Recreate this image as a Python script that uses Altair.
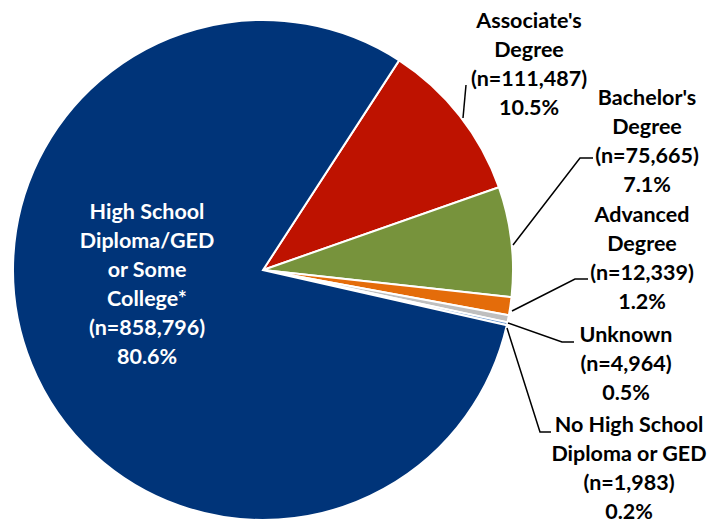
import math
import altair as alt
import pandas as pd

# ---- data ----
categories = ["Associate's Degree", "Bachelor's Degree", "Advanced Degree",
              "Unknown", "No High School Diploma or GED",
              "High School Diploma/GED or Some College*"]
counts = [111487, 75665, 12339, 4964, 1983, 858796]
percents = ["10.5%", "7.1%", "1.2%", "0.5%", "0.2%", "80.6%"]
label_lines = [
    ["Associate's", "Degree"],
    ["Bachelor's", "Degree"],
    ["Advanced", "Degree"],
    ["Unknown"],
    ["No High School", "Diploma or GED"],
    ["High School", "Diploma/GED", "or Some", "College*"],
]
colors = ["#BE1200", "#77933C", "#E46C0A", "#BFBFBF", "#6F9BD1", "#003479"]

# ---- layout (chart pixel coords; page offset 8px) ----
OX, OY = 8, 8
CX, CY, R = 263 - OX, 270 - OY, 250
START = math.radians(33.0)
# centre x, centre y of first line
label_pos = [(529, 22), (647, 99), (642, 216), (626, 336), (629, 426), (147, 213)]
label_color = ["black"] * 5 + ["white"]
leaders = [
    [(463, 118), (466, 85)],
    [(513, 245), (580, 158), (593, 158)],
    [(512, 311), (575, 279), (588, 279)],
    [(508, 323), (562, 342), (574, 342)],
    [(507, 328), (540, 432), (551, 432)],
]

df = pd.DataFrame({"cat": categories, "n": counts, "order": list(range(len(counts))),
                   "color": colors})

pie = alt.Chart(df).mark_arc(outerRadius=R, stroke="white", strokeWidth=2).encode(
    theta=alt.Theta("n:Q", stack=True,
                    scale=alt.Scale(range=[START, START + 2 * math.pi])),
    order=alt.Order("order:O"),
    color=alt.Color("color:N", scale=None),
    x=alt.value(CX), y=alt.value(CY),
)

texts = []
for i, cat in enumerate(categories):
    lines = label_lines[i] + [f"(n={counts[i]:,})", percents[i]]
    texts.append({"txt": lines, "x": label_pos[i][0] - OX, "y": label_pos[i][1] - OY,
                  "c": label_color[i]})
tdf = pd.DataFrame(texts)

labels = alt.Chart(tdf).mark_text(font="Lato", fontWeight="bold", fontSize=21.5,
                                  lineHeight=29, align="center", baseline="middle").encode(
    x=alt.X("x:Q", scale=None), y=alt.Y("y:Q", scale=None),
    text="txt", color=alt.Color("c:N", scale=None),
)

lrows = []
for k, pts in enumerate(leaders):
    for j, (px, py) in enumerate(pts):
        lrows.append({"id": k, "j": j, "x": px - OX, "y": py - OY})
ldf = pd.DataFrame(lrows)
lines_layer = alt.Chart(ldf).mark_line(color="black", strokeWidth=1.5).encode(
    x=alt.X("x:Q", scale=None), y=alt.Y("y:Q", scale=None),
    detail="id:N", order="j:O",
)

chart = alt.layer(pie, lines_layer, labels).properties(
    width=699, height=513, autosize=alt.AutoSizeParams(type="none"), padding=0
).configure_view(stroke=None)

chart.save("out.html", embed_options={"renderer": "svg", "actions": False})
